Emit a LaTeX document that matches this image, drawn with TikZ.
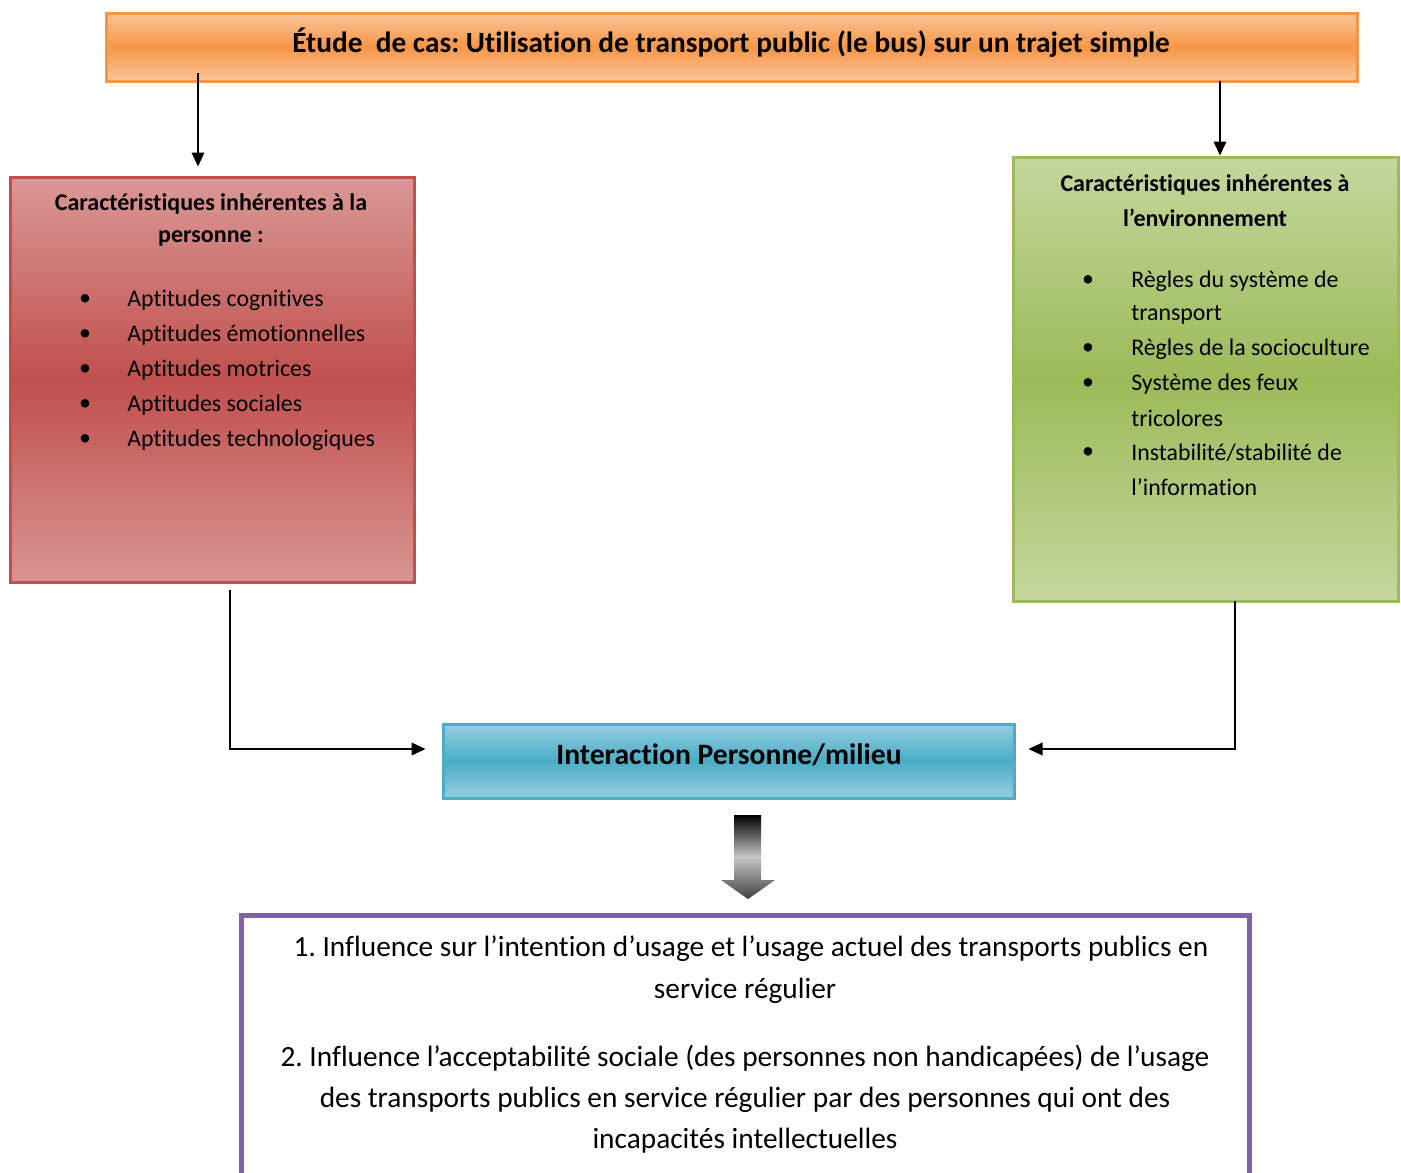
\documentclass[tikz,border=0pt]{standalone}
\usepackage{fontspec}
\setmainfont{Carlito}[Ligatures=NoCommon]
\frenchspacing
\usetikzlibrary{arrows.meta,calc,fit}
\definecolor{orM}{HTML}{F79646}
\definecolor{orL}{HTML}{FAC59A}
\definecolor{rdM}{HTML}{C0504D}
\definecolor{rdL}{HTML}{DA9896}
\definecolor{grM}{HTML}{9BBB59}
\definecolor{grL}{HTML}{C4D79D}
\definecolor{blM}{HTML}{4BACC6}
\definecolor{blL}{HTML}{95CFDF}
\definecolor{puM}{HTML}{8064A2}
\tikzset{
  box/.style={inner sep=0pt, line width=2.25pt},
  conn/.style={line width=1.1pt, -{Triangle[length=10.5pt,width=9.5pt]}},
  body/.style={font=\fontsize{17.9}{21}\selectfont, inner sep=0pt},
  head/.style={font=\bfseries\fontsize{18}{21}\selectfont, inner sep=0pt},
  big/.style={font=\fontsize{22}{26}\selectfont, inner sep=0pt},
  bul/.style={font=\fontsize{17.9}{21}\selectfont, inner sep=0pt},
}
\begin{document}
\begin{tikzpicture}[x=0.75pt,y=-0.75pt]
\clip (0,0) rectangle (1401,1172);
\fill[white] (0,0) rectangle (1401,1172);
% boxes
\node[box, fit={(106,13) (1357,81)}, draw=orM, top color=orL, bottom color=orL, middle color=orM] (title) {};
\node[box, fit={(10,177) (414,582)}, draw=rdM, top color=rdL, bottom color=rdL!95!rdM, middle color=rdM] (pers) {};
\node[box, fit={(1013,157) (1398,601)}, draw=grM, top color=grL, bottom color=grL, middle color=grM] (env) {};
\node[box, fit={(443,724) (1014,798)}, draw=blM, top color=blL, bottom color=blL, middle color=blM] (inter) {};
\node[inner sep=0pt, line width=3.75pt, fit={(241,915) (1249,1195)}, draw=puM, fill=white] (res) {};
% title text
\node[font=\bfseries\fontsize{22}{26}\selectfont, inner sep=0pt] (ttl) at (731,43) {Étude\ \ de cas: Utilisation de transport public (le bus) sur un trajet simple};
% person box text
\node[head] (ph1) at (211,204) {Caractéristiques inhérentes à la};
\node[head] (ph2) at (211,238) {personne :};
\foreach \t [count=\i] in {Aptitudes cognitives, Aptitudes émotionnelles, Aptitudes motrices, Aptitudes sociales, Aptitudes technologiques}{
  \pgfmathsetmacro{\yy}{300+(\i-1)*35}
  \node[bul] (pb\i) at (85,\yy) {•};
  \node[body, anchor=west] (pt\i) at (127,\yy) {\t};
}
% environment box text
\node[head] (eh1) at (1205,185) {Caractéristiques inhérentes à};
\node[head] (eh2) at (1205,218) {l’environnement};
\node[bul] (eb1) at (1088,281) {•};
\node[body, anchor=west] (et1) at (1131,281) {Règles du système de};
\node[body, anchor=west] (et1b) at (1131,315) {transport};
\node[bul] (eb2) at (1088,349) {•};
\node[body, anchor=west] (et2) at (1131,349) {Règles de la socioculture};
\node[bul] (eb3) at (1088,384) {•};
\node[body, anchor=west] (et3) at (1131,384) {Système des feux};
\node[body, anchor=west] (et3b) at (1131,418) {tricolores};
\node[bul] (eb4) at (1088,453) {•};
\node[body, anchor=west] (et4) at (1131,453) {Instabilité/stabilité de};
\node[body, anchor=west] (et4b) at (1131,487) {l’information};
% interaction text
\node[font=\bfseries\fontsize{22.2}{26}\selectfont, inner sep=0pt] (itx) at (729,755) {Interaction Personne/milieu};
% result text
\node[big] (r1) at (751,949) {1. Influence sur l’intention d’usage et l’usage actuel des transports publics en};
\node[big] (r1b) at (745,991) {service régulier};
\node[big] (r2) at (745,1058) {2. Influence l’acceptabilité sociale (des personnes non handicapées) de l’usage};
\node[big] (r2b) at (745,1100) {des transports publics en service régulier par des personnes qui ont des};
\node[big] (r2c) at (745,1141) {incapacités intellectuelles};
% connectors
\coordinate (t1) at (198,73);
\coordinate (t2) at (1220,81);
\draw[conn] (t1) -- ($(pers.north -| t1)+(0,-9)$);
\draw[conn] (t2) -- (env.north -| t2);
\coordinate (p1) at (230,590);
\coordinate (e1) at (1235,601);
\draw[conn] (p1) |- ($(inter.west)+(-16,-12)$);
\draw[conn] (e1) |- ($(inter.east)+(13,-12)$);
% block arrow
\shade[top color=black, bottom color=gray!50!black, middle color=gray!45]
  (734,815) -- (761,815) -- (761,880) -- (775,880) -- (748,899) -- (721,880) -- (734,880) -- cycle;
\end{tikzpicture}
\end{document}
